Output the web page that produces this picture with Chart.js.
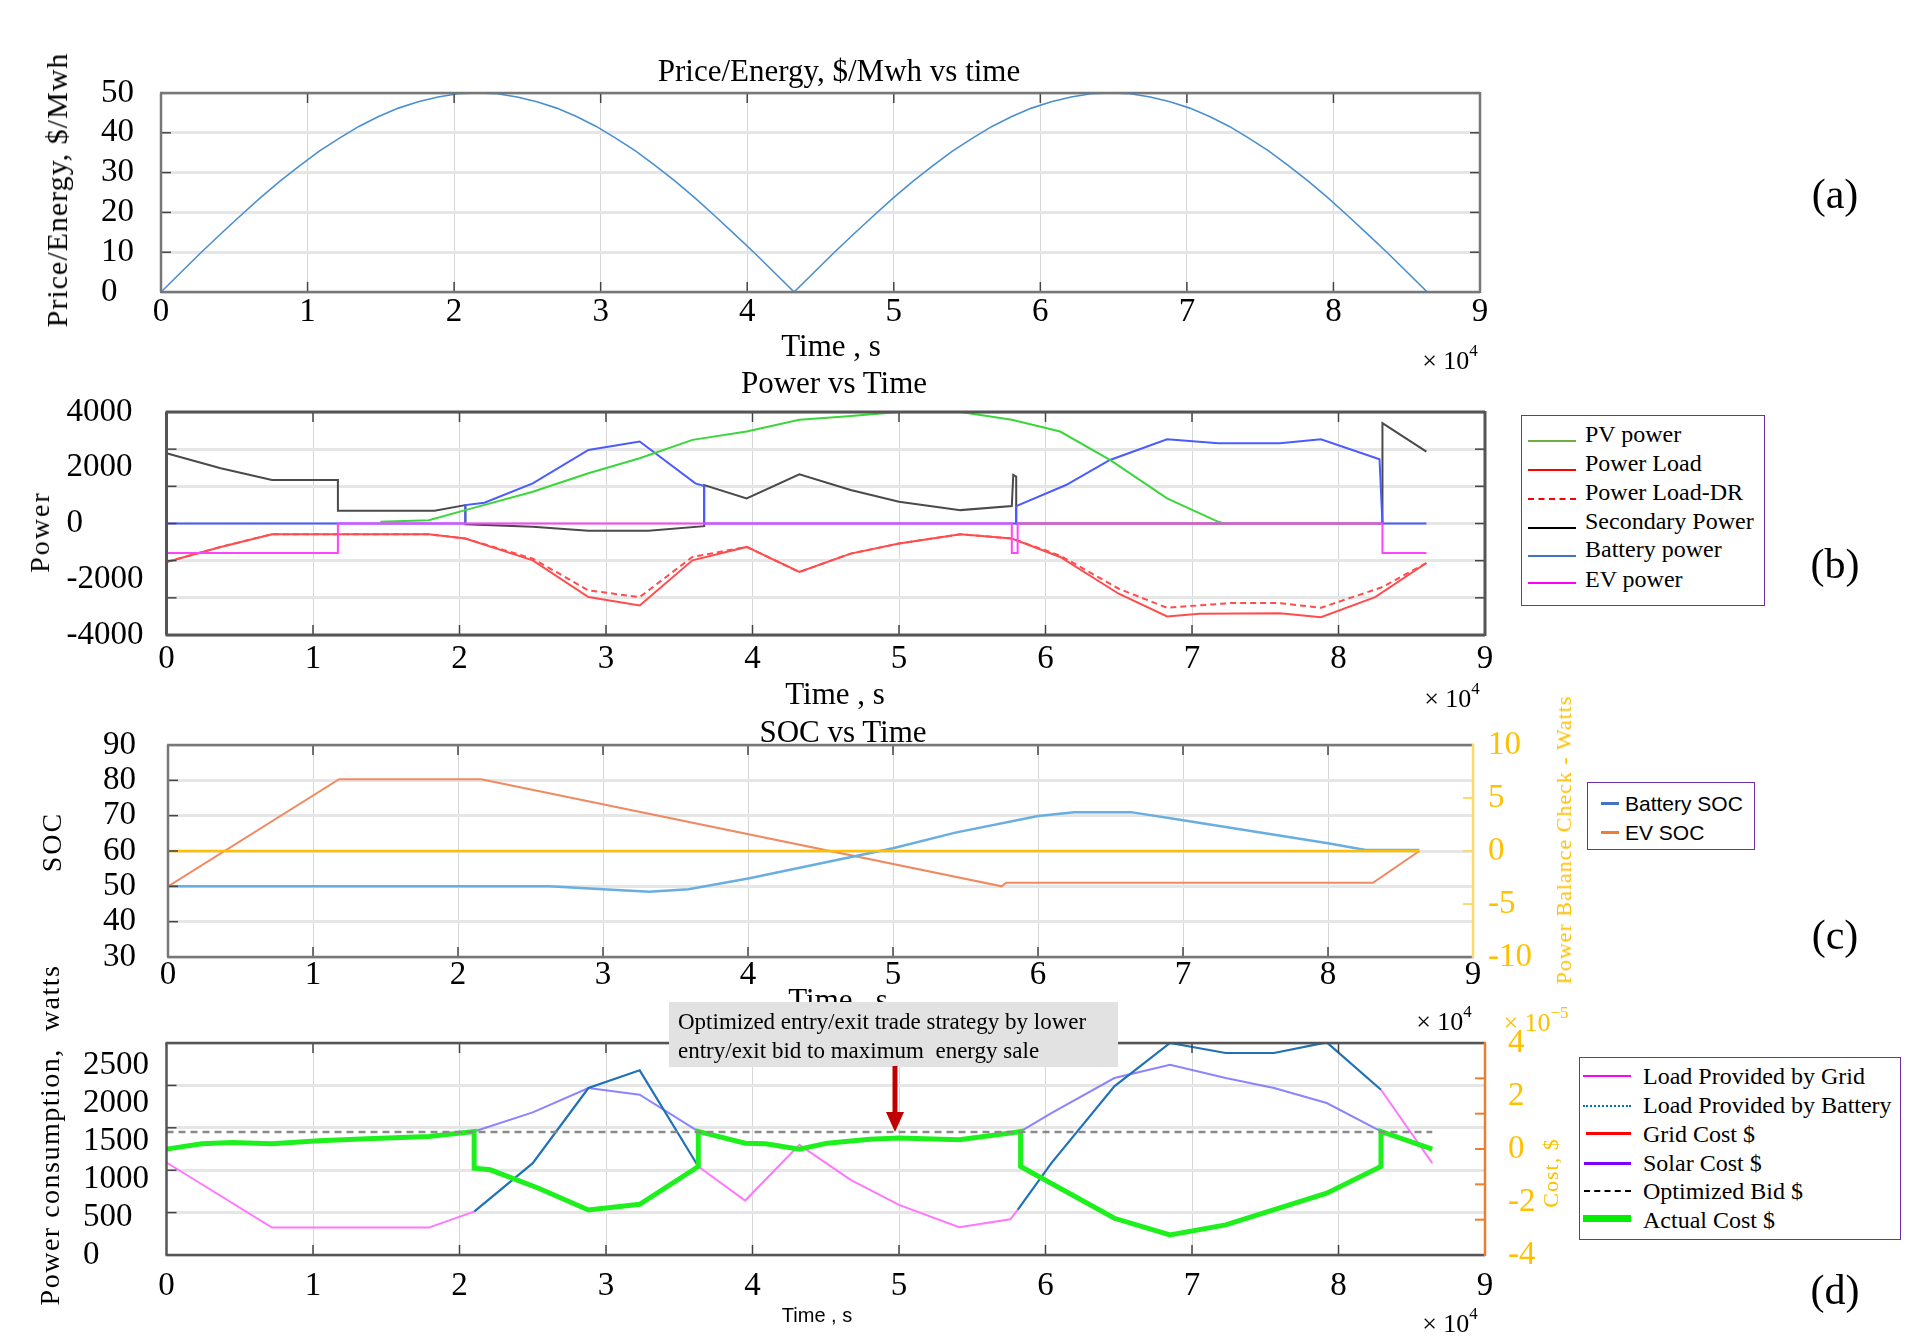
<!DOCTYPE html>
<html><head><meta charset="utf-8">
<script src="https://cdn.jsdelivr.net/npm/chart.js@4.4.1/dist/chart.umd.min.js"></script>
<style>
html,body{margin:0;padding:0;background:#fff;}
body{width:1920px;height:1344px;position:relative;overflow:hidden;font-family:'Liberation Serif','Times New Roman',serif;color:#000;}
.cw{position:absolute;left:0;width:1920px;}
.t{position:absolute;white-space:nowrap;transform:translate(-50%,-50%);line-height:1;}
.r{position:absolute;white-space:nowrap;transform:translate(-50%,-50%) rotate(-90deg);line-height:1;}
.lg{position:absolute;border:1.5px solid #7030A0;background:#fff;box-sizing:border-box;}
.li{position:absolute;white-space:nowrap;line-height:1;transform:translateY(-50%);}
.ls{position:absolute;height:0;}
sup{font-size:65%;vertical-align:top;position:relative;top:-5px;}
</style></head><body>
<div class="cw" id="wa" style="top:50px;height:300px"><canvas id="ca"></canvas></div>
<div class="cw" id="wb" style="top:380px;height:340px"><canvas id="cb"></canvas></div>
<div class="cw" id="wc" style="top:715px;height:290px"><canvas id="cc"></canvas></div>
<div class="cw" id="wd" style="top:1010px;height:330px"><canvas id="cd"></canvas></div>

<!-- panel a texts -->
<div class="t" style="left:839px;top:70px;font-size:31px">Price/Energy, $/Mwh vs time</div>
<div class="r" style="left:57px;top:190px;font-size:30px;letter-spacing:1px">Price/Energy, $/Mwh</div>
<div class="t" style="left:831px;top:345px;font-size:31px">Time , s</div>
<div class="t" style="left:1450px;top:361px;font-size:26px">× 10<sup>4</sup></div>
<div class="t" style="left:1835px;top:194px;font-size:42px">(a)</div>

<!-- panel b texts -->
<div class="t" style="left:834px;top:382px;font-size:31px">Power vs Time</div>
<div class="r" style="left:40px;top:532px;font-size:28px;letter-spacing:2px">Power</div>
<div class="t" style="left:835px;top:693px;font-size:31px">Time , s</div>
<div class="t" style="left:1452px;top:699px;font-size:26px">× 10<sup>4</sup></div>
<div class="t" style="left:1835px;top:564px;font-size:42px">(b)</div>
<div class="lg" style="left:1521px;top:415px;width:244px;height:191px">
  <div class="ls" style="left:6px;top:24px;width:48px;border-top:2px solid #70AD47"></div>
  <div class="li" style="left:63px;top:18px;font-size:24px">PV power</div>
  <div class="ls" style="left:6px;top:53px;width:48px;border-top:2px solid #FF0000"></div>
  <div class="li" style="left:63px;top:47px;font-size:24px">Power Load</div>
  <div class="ls" style="left:6px;top:82px;width:48px;border-top:2px dashed #FF0000"></div>
  <div class="li" style="left:63px;top:76px;font-size:24px">Power Load-DR</div>
  <div class="ls" style="left:6px;top:111px;width:48px;border-top:2px solid #000"></div>
  <div class="li" style="left:63px;top:105px;font-size:24px">Secondary Power</div>
  <div class="ls" style="left:6px;top:139px;width:48px;border-top:2px solid #4472C4"></div>
  <div class="li" style="left:63px;top:133px;font-size:24px">Battery power</div>
  <div class="ls" style="left:6px;top:166px;width:48px;border-top:2px solid #FF00FF"></div>
  <div class="li" style="left:63px;top:163px;font-size:24px">EV power</div>
</div>

<!-- panel c texts -->
<div class="t" style="left:843px;top:731px;font-size:31px">SOC vs Time</div>
<div class="r" style="left:52px;top:842px;font-size:28px;letter-spacing:2px">SOC</div>
<div class="r" style="left:1564px;top:840px;font-size:22px;letter-spacing:1px;color:#FFC000">Power Balance Check - Watts</div>
<div class="t" style="left:838px;top:999px;font-size:31px">Time , s</div>
<div class="t" style="left:1444px;top:1022px;font-size:26px">× 10<sup>4</sup></div>
<div class="t" style="left:1835px;top:935px;font-size:42px">(c)</div>
<div class="lg" style="left:1587px;top:782px;width:168px;height:68px;font-family:'Liberation Sans Narrow','Liberation Sans',sans-serif">
  <div class="ls" style="left:13px;top:19px;width:18px;border-top:3px solid #4472C4"></div>
  <div class="li" style="left:37px;top:20px;font-size:21px">Battery SOC</div>
  <div class="ls" style="left:13px;top:48px;width:18px;border-top:3px solid #ED7D31"></div>
  <div class="li" style="left:37px;top:49px;font-size:21px">EV SOC</div>
</div>

<!-- panel d texts -->
<div class="r" style="left:50px;top:1135px;font-size:28px;letter-spacing:1.5px">Power consumption,&nbsp; watts</div>
<div class="r" style="left:1551px;top:1173px;font-size:22px;letter-spacing:1px;color:#FFC000">Cost, $</div>
<div class="t" style="left:1536px;top:1023px;font-size:26px;color:#FFC000">× 10<sup>−5</sup></div>
<div class="t" style="left:817px;top:1315px;font-size:20px;font-family:'Liberation Sans Narrow','Liberation Sans',sans-serif">Time , s</div>
<div class="t" style="left:1450px;top:1324px;font-size:26px">× 10<sup>4</sup></div>
<div class="t" style="left:1835px;top:1290px;font-size:42px">(d)</div>
<div style="position:absolute;left:669px;top:1002px;width:449px;height:65px;background:#e2e2e2"></div>
<div class="li" style="left:678px;top:1021px;font-size:23px">Optimized entry/exit trade strategy by lower</div>
<div class="li" style="left:678px;top:1050px;font-size:23px">entry/exit bid to maximum&nbsp; energy sale</div>
<svg style="position:absolute;left:880px;top:1066px" width="30" height="70">
  <line x1="15" y1="0" x2="15" y2="50" stroke="#C00000" stroke-width="5"/>
  <polygon points="6,46 24,46 15,66" fill="#C00000"/>
</svg>
<div class="lg" style="left:1579px;top:1057px;width:322px;height:183px">
  <div class="ls" style="left:3px;top:17px;width:48px;border-top:2px solid #FF00FF"></div>
  <div class="li" style="left:63px;top:18px;font-size:24px">Load Provided by Grid</div>
  <div class="ls" style="left:3px;top:47px;width:48px;border-top:2px dotted #0070C0"></div>
  <div class="li" style="left:63px;top:47px;font-size:24px">Load Provided by Battery</div>
  <div class="ls" style="left:6px;top:74px;width:45px;border-top:3px solid #FF0000"></div>
  <div class="li" style="left:63px;top:76px;font-size:24px">Grid Cost $</div>
  <div class="ls" style="left:4px;top:104px;width:47px;border-top:3px solid #7F00FF"></div>
  <div class="li" style="left:63px;top:105px;font-size:24px">Solar Cost $</div>
  <div class="ls" style="left:4px;top:132px;width:47px;border-top:2px dashed #000"></div>
  <div class="li" style="left:63px;top:133px;font-size:24px">Optimized Bid $</div>
  <div class="ls" style="left:3px;top:157px;width:48px;border-top:7px solid #00EE00"></div>
  <div class="li" style="left:63px;top:162px;font-size:24px">Actual Cost $</div>
</div>

<script>
// ---------- (a) Price/Energy ----------
const priceTime = [0,1350,2700,4050,5400,6750,8100,9450,10800,12150,13500,14850,16200,17550,18900,20250,21600,22950,24300,25650,27000,28350,29700,31050,32400,33750,35100,36450,37800,39150,40500,41850,43200,44550,45900,47250,48600,49950,51300,52650,54000,55350,56700,58050,59400,60750,62100,63450,64800,66150,67500,68850,70200,71550,72900,74250,75600,76950,78300,79650,81000,82350,83700,85050,86400];
const priceValue = [0,4.9,9.8,14.5,19.1,23.6,27.8,31.7,35.4,38.6,41.6,44.1,46.2,47.8,49.0,49.8,50,49.8,49.0,47.8,46.2,44.1,41.6,38.6,35.4,31.7,27.8,23.6,19.1,14.5,9.8,4.9,0,4.9,9.8,14.5,19.1,23.6,27.8,31.7,35.4,38.6,41.6,44.1,46.2,47.8,49.0,49.8,50,49.8,49.0,47.8,46.2,44.1,41.6,38.6,35.4,31.7,27.8,23.6,19.1,14.5,9.8,4.9,0];
const priceTicks = [0,10,20,30,40,50];

// ---------- (b) Power vs Time ----------
const pvTime = [14600,17900,20400,25000,28800,32300,35900,39600,43200,46300,50000,54200,57700,61000,64400,68300,71800,72200];
const pvPower = [60,120,480,1140,1800,2340,3000,3300,3720,3840,4000,4000,3720,3300,2280,900,60,0];
const loadTime = [0,3700,7200,17900,20400,25000,28800,32300,35900,39600,43200,46700,50000,54200,57700,61000,65000,68300,70500,76000,78800,82500,86000];
const loadPower = [-1380,-840,-384,-384,-540,-1320,-2640,-2940,-1320,-840,-1740,-1080,-720,-384,-540,-1200,-2520,-3336,-3240,-3216,-3360,-2640,-1416];
const loadDrTime = [0,3700,7200,17900,20400,25000,28800,32300,35900,39600,43200,46700,50000,54200,57700,61000,65000,68300,72600,76000,78800,83000,86000];
const loadDrPower = [-1380,-840,-384,-384,-540,-1260,-2400,-2640,-1200,-840,-1740,-1080,-720,-384,-540,-1150,-2340,-3024,-2856,-2856,-3024,-2280,-1416];
const secTime = [0,3700,7200,11700,11700,18300,20400,20400,25000,28800,32900,36700,36700,39600,43200,46700,50000,54200,57700,57800,58000,58000,83000,83000,86000];
const secPower = [2520,1980,1560,1560,456,456,660,-24,-120,-264,-264,-96,1380,900,1764,1200,780,480,624,1740,1680,0,0,3600,2580];
const batTime = [0,20400,20400,21700,25000,28800,32300,36100,36700,36700,58000,58000,61400,64400,68300,71800,76000,78800,82800,83000,86000];
const batPower = [0,0,660,744,1440,2640,2940,1440,1344,0,0,624,1380,2280,3024,2880,2880,3024,2304,0,0];
const evTime = [0,0,11700,11700,57700,57700,58100,58100,83000,83000,86000];
const evPower = [0,-1056,-1056,0,0,-1056,-1056,0,0,-1056,-1056];
const powerTicks = [-4000,-2000,0,2000,4000];

// ---------- (c) SOC vs Time ----------
const evSocTime = [0,11800,21600,57500,57800,83100,86300];
const evSoc = [50,80.3,80.3,50,51,51,60];
const batSocTime = [0,26300,30000,33200,35900,40100,50000,54300,60000,62500,66400,69900,80000,82600,86300];
const batSoc = [50,50,49.2,48.5,49.2,52.3,60.8,65.2,69.9,71,71,68.8,62.2,60.3,60.3];
const balanceTime = [0,86300];
const balance = [0,0];
const socTicks = [30,40,50,60,70,80,90];
const balanceTicks = [-10,-5,0,5,10];

// ---------- (d) Power consumption / cost ----------
const gridTime = [0,7200,17900,21000,21000,36300,39500,43200,46700,50000,54100,57600,58100,58100,82900,86400];
const gridLoad = [1222,362,362,573,null,1169,719,1455,992,661,366,472,595,null,2183,1213];
const batLoadTime = [21000,25000,28800,32300,36300,36300,58100,60400,64700,68500,72300,75600,79200,82900];
const batLoad = [573,1213,2205,2439,1169,null,595,1213,2227,2800,2668,2668,2809,2183];
const solarTime = [21000,25000,28800,32300,36300,36300,58300,60400,64700,68500,72300,75600,79200,82900];
const solarCost = [1632,1883,2205,2117,1632,null,1632,1874,2337,2514,2337,2205,2007,1632];
const actualTime = [0,2400,4500,7200,10400,13700,17900,21000,21000,22100,25400,28800,32300,36300,36300,39500,40900,43200,45100,48000,50000,54100,57600,58300,58300,64700,68500,72300,79200,82900,82900,86400];
const actualCost = [1398,1469,1486,1469,1508,1535,1566,1632,1147,1125,882,595,670,1169,1632,1477,1469,1398,1477,1530,1544,1521,1610,1632,1169,485,265,397,816,1169,1632,1398];
const bidTime = [0,86400];
const bidValue = [1623,1623];
const gridCostTime = [];
const gridCost = [];
const consTicks = [0,500,1000,1500,2000,2500];
const costTicks = [-4,-2,0,2,4];

const xTicks = [0,1,2,3,4,5,6,7,8,9];

// ---------- helpers ----------
const SERIF = "'Liberation Serif','Times New Roman',serif";
const TICK = 33;
const pts = (xs, ys) => xs.map((x, i) => ({x: x, y: ys[i]}));

function xAxis(pad, h) {
  return {
    type: 'linear', position: 'bottom', min: 0, max: 90000,
    afterBuildTicks(s) { s.ticks = xTicks.map(v => ({value: v * 10000})); },
    ticks: {autoSkip: false, maxRotation: 0, padding: pad, color: '#000', font: {family: SERIF, size: TICK}, callback: v => String(Math.round(v / 10000))},
    grid: {color: '#d6d6d6', lineWidth: 1, drawTicks: false},
    border: {display: false},
    afterFit(s) { s.height = h; s.paddingLeft = 0; s.paddingRight = 0; }
  };
}
function yAxis(pos, min, max, tickVals, w, o) {
  o = o || {};
  return {
    type: 'linear', position: pos, min: min, max: max,
    afterBuildTicks(s) { s.ticks = tickVals.map(v => ({value: v})); },
    ticks: {autoSkip: false, padding: o.pad || 0, color: o.color || '#000',
      crossAlign: pos === 'left' ? 'far' : 'near', font: {family: SERIF, size: TICK}, callback: v => String(v)},
    grid: {display: !!o.grid, drawOnChartArea: !!o.grid, color: '#e6e6e6', lineWidth: 3, drawTicks: false},
    border: {display: false},
    afterFit(s) { s.width = w; s.paddingTop = 0; s.paddingBottom = 0; }
  };
}
function gridAxis(pos, min, max, n, showGrid) {
  return {
    type: 'linear', position: pos, min: min, max: max, display: true,
    afterBuildTicks(s) { const t = []; for (let i = 0; i <= n; i++) t.push({value: min + (max - min) * i / n}); s.ticks = t; },
    ticks: {display: false},
    grid: {display: showGrid, drawOnChartArea: showGrid, color: '#e6e6e6', lineWidth: 3, drawTicks: false},
    border: {display: false},
    afterFit(s) { s.width = 0; s.paddingTop = 0; s.paddingBottom = 0; }
  };
}
function ds(label, data, color, extra) {
  return Object.assign({label: label, data: data, borderColor: color, backgroundColor: color, borderWidth: 2,
    pointRadius: 0, pointHoverRadius: 0, tension: 0, fill: false, spanGaps: false}, extra || {});
}

const framePlugin = {
  id: 'frame',
  afterDatasetsDraw(chart, args, o) {
    const c = chart.ctx, a = chart.chartArea;
    c.save();
    const seg = (x1, y1, x2, y2, col, w) => { c.beginPath(); c.strokeStyle = col; c.lineWidth = w; c.moveTo(x1, y1); c.lineTo(x2, y2); c.stroke(); };
    const xs = chart.scales.x;
    xs.ticks.forEach(t => {
      const p = xs.getPixelForValue(t.value);
      if (p < a.left + 2 || p > a.right - 2) return;
      seg(p, a.top, p, a.top + o.tl, o.tick, 1.5);
      seg(p, a.bottom, p, a.bottom - o.tl, o.tick, 1.5);
    });
    const yl = chart.scales[o.ysL];
    yl.ticks.forEach(t => {
      const p = yl.getPixelForValue(t.value);
      if (p < a.top + 2 || p > a.bottom - 2) return;
      seg(a.left, p, a.left + o.tl, p, o.tick, 1.5);
      if (!o.ysR) seg(a.right, p, a.right - o.tl, p, o.tick, 1.5);
    });
    if (o.ysR) {
      const yr = chart.scales[o.ysR];
      yr.ticks.forEach(t => {
        const p = yr.getPixelForValue(t.value);
        if (p < a.top + 2 || p > a.bottom - 2) return;
        seg(a.right, p, a.right - o.tl, p, o.rtick, 2);
      });
    }
    seg(a.left - 1, a.top, a.right, a.top, o.border, o.bw);
    seg(a.left - 1, a.bottom, a.right, a.bottom, o.border, o.bw);
    seg(a.left, a.top, a.left, a.bottom, o.border, o.bw);
    seg(a.right, a.top - 1, a.right, a.bottom + 1, o.right || o.border, o.bw);
    c.restore();
  }
};

function makeChart(id, datasets, scales, pad, frame) {
  return new Chart(document.getElementById(id), {
    type: 'line',
    data: {datasets: datasets},
    options: {
      responsive: true, maintainAspectRatio: false, animation: false,
      layout: {padding: pad},
      plugins: {legend: {display: false}, tooltip: {enabled: false}, title: {display: false}, frame: frame},
      scales: scales
    },
    plugins: [framePlugin]
  });
}

// (a) plot box: L161 R1480 T93 B292 ; canvas top 50 h300
makeChart('ca', [
  ds('Price/Energy', pts(priceTime, priceValue), '#4A8FD0', {borderWidth: 1.6})
], {
  x: xAxis(1, 45),
  y: yAxis('left', 0, 50, priceTicks, 60, {grid: true})
}, {left: 101, right: 1920 - 1480, top: 43, bottom: 13},
{tl: 10, tick: '#444', border: '#777', bw: 2.5, ysL: 'y'});

// (b) plot box: L166.5 R1485 T412 B635 ; canvas top 380 h340
makeChart('cb', [
  ds('EV power', pts(evTime, evPower), '#FF44FF', {order: 0}),
  ds('PV power', pts(pvTime, pvPower), '#3BD63B', {order: 1}),
  ds('Power Load', pts(loadTime, loadPower), '#FF4D4D', {order: 2}),
  ds('Power Load-DR', pts(loadDrTime, loadDrPower), '#FF4D4D', {order: 3, borderDash: [6, 4]}),
  ds('Battery power', pts(batTime, batPower), '#4B5BFF', {order: 4}),
  ds('Secondary Power', pts(secTime, secPower), '#4a4a4a', {order: 5})
], {
  x: xAxis(5, 50),
  y: yAxis('left', -4000, 4000, powerTicks, 100, {grid: false}),
  yg: gridAxis('left', -4000, 4000, 6, true)
}, {left: 66.5, right: 1920 - 1485, top: 32, bottom: 35},
{tl: 10, tick: '#444', border: '#555', bw: 3, ysL: 'yg'});

// (c) plot box: L168 R1473 T745 B957 ; canvas top 715 h290
makeChart('cc', [
  ds('Power Balance', pts(balanceTime, balance), '#FFC000', {yAxisID: 'y1', order: 0, borderWidth: 2.5}),
  ds('Battery SOC', pts(batSocTime, batSoc), '#69AEE0', {order: 1, borderWidth: 2.5}),
  ds('EV SOC', pts(evSocTime, evSoc), '#EF8A62', {order: 2})
], {
  x: xAxis(-1, 40),
  y: yAxis('left', 30, 90, socTicks, 65, {grid: true}),
  y1: yAxis('right', -10, 10, balanceTicks, 70, {grid: false, color: '#FFC000', pad: 15})
}, {left: 103, right: 1920 - 1473 - 70, top: 30, bottom: 8},
{tl: 10, tick: '#444', border: '#777', bw: 2.5, right: '#FFD966', ysL: 'y', ysR: 'y1', rtick: '#FFD966'});

// (d) plot box: L166.5 R1485 T1043 B1255 ; canvas top 1010 h330
makeChart('cd', [
  ds('Optimized Bid $', pts(bidTime, bidValue), '#8a8a8a', {order: 0, borderDash: [7, 5], borderWidth: 2.5}),
  ds('Actual Cost $', pts(actualTime, actualCost), '#1EF01E', {order: 1, borderWidth: 5}),
  ds('Grid Cost $', pts(gridCostTime, gridCost), '#FF0000', {order: 2}),
  ds('Load Provided by Grid', pts(gridTime, gridLoad), '#FF77FF', {order: 3}),
  ds('Load Provided by Battery', pts(batLoadTime, batLoad), '#1F72B8', {order: 4, borderWidth: 2.2}),
  ds('Solar Cost $', pts(solarTime, solarCost), 'rgba(120,110,255,0.85)', {order: 5})
], {
  x: xAxis(12, 60),
  y: yAxis('left', 0, 2800, consTicks, 83.5, {grid: false}),
  yg: gridAxis('left', 0, 2800, 5, true),
  y1: yAxis('right', -4, 4, costTicks, 70, {grid: false, color: '#FFC000', pad: 23}),
  yr: gridAxis('right', -4, 4, 6, false)
}, {left: 83, right: 1920 - 1485 - 70, top: 33, bottom: 25},
{tl: 10, tick: '#444', border: '#555', bw: 2.5, right: '#ED7D31', ysL: 'yg', ysR: 'yr', rtick: '#ED7D31'});
</script>
</body></html>
